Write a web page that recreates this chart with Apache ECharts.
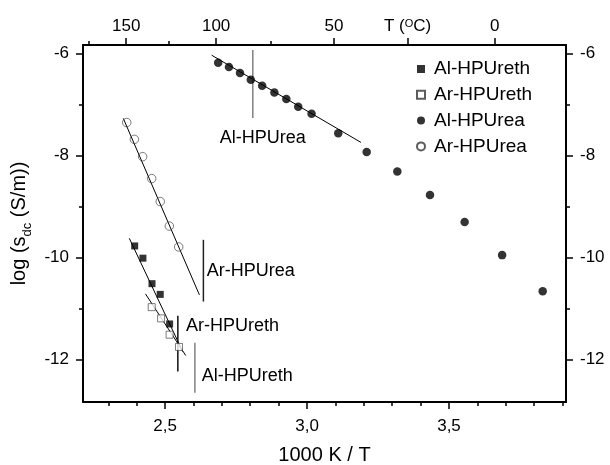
<!DOCTYPE html>
<html>
<head>
<meta charset="utf-8">
<script src="https://cdn.jsdelivr.net/npm/echarts@6/dist/echarts.min.js"></script>
<style>html,body{margin:0;padding:0;background:#fff}#c{width:610px;height:465px}</style>
</head>
<body>
<div id="c"></div>
<script>
// ---- data (x = 1000 K / T, y = log sigma_dc) ----
const alUreaX = [2.687, 2.725, 2.764, 2.802, 2.842, 2.885, 2.927, 2.969, 3.016, 3.110, 3.210, 3.318, 3.433, 3.555, 3.687, 3.830];
const alUreaY = [-6.18, -6.26, -6.38, -6.51, -6.63, -6.76, -6.89, -7.04, -7.18, -7.56, -7.93, -8.31, -8.77, -9.30, -9.95, -10.66];
const arUreaX = [2.365, 2.392, 2.421, 2.453, 2.483, 2.515, 2.548];
const arUreaY = [-7.35, -7.68, -8.02, -8.45, -8.90, -9.38, -9.79];
const alUrethX = [2.393, 2.422, 2.454, 2.483, 2.516];
const alUrethY = [-9.77, -10.01, -10.51, -10.72, -11.30];
const arUrethX = [2.453, 2.486, 2.516, 2.549];
const arUrethY = [-10.97, -11.19, -11.51, -11.75];
// fitted lines: [x1, y1, x2, y2]
const fitAlUrea = [2.664, -6.03, 3.190, -7.74];
const fitArUrea = [2.353, -7.27, 2.621, -10.73];
const fitAlUreth = [2.374, -9.62, 2.562, -11.84];
const fitArUreth = [2.431, -10.71, 2.573, -11.92];
// callouts: name, line x, line y from, line y to, label x, label y
const calloutNames = ['Al-HPUrea', 'Ar-HPUrea', 'Ar-HPUreth', 'Al-HPUreth'];
const calloutLineX = [2.809, 2.635, 2.545, 2.605];
const calloutLineY1 = [-5.93, -9.65, -11.14, -11.67];
const calloutLineY2 = [-7.26, -10.86, -12.23, -12.65];
const calloutTextX = [2.693, 2.647, 2.574, 2.629];
const calloutTextY = [-7.65, -10.27, -11.35, -12.33];
// tick labels
const bottomMajor = [2.5, 3.0, 3.5];
const bottomMinor = [2.3, 2.4, 2.6, 2.7, 2.8, 2.9, 3.1, 3.2, 3.3, 3.4, 3.6, 3.7, 3.8, 3.9];
const topMajorC = [150, 100, 50, 25, 0];
const topMinorC = [175, 125, 75];
const yMajor = [-6, -8, -10, -12];
const yMinor = [-7, -9, -11];
const seriesNames = ['Al-HPUreth', 'Ar-HPUreth', 'Al-HPUrea', 'Ar-HPUrea'];

// ---- chart ----
const FONT = 'Liberation Sans, Arial, sans-serif';
const xMin = 2.211, xMax = 3.912, yMin = -12.83, yMax = -5.83;
const toX = c => 1000 / (c + 273.15);
const zip = (a, b) => a.map((v, i) => [v, b[i]]);
const lineColors = ['#808080', '#222', '#111', '#808080'];

function xAx(pos, ticks, len, labels, extra) {
  return Object.assign({
    type: 'value', position: pos, min: xMin, max: xMax,
    axisLine: { show: labels, onZero: false, lineStyle: { color: '#000', width: 2 } },
    axisTick: { show: true, inside: false, length: len, customValues: ticks, lineStyle: { color: '#000', width: 1.5 } },
    axisLabel: { show: labels, customValues: ticks, color: '#000', fontSize: 17, fontFamily: FONT },
    splitLine: { show: false }
  }, extra || {});
}
function yAx(pos, ticks, len, labels, extra) {
  return Object.assign({
    type: 'value', position: pos, min: yMin, max: yMax,
    axisLine: { show: labels, onZero: false, lineStyle: { color: '#000', width: 2 } },
    axisTick: { show: true, inside: false, length: len, customValues: ticks, lineStyle: { color: '#000', width: 1.5 } },
    axisLabel: { show: labels, customValues: ticks, color: '#000', fontSize: 17, fontFamily: FONT, margin: 14, formatter: v => String(Math.round(v)) },
    splitLine: { show: false }
  }, extra || {});
}

const topMajorX = topMajorC.map(toX);
const topMinorX = topMinorC.map(toX);

const option = {
  animation: false,
  backgroundColor: '#fff',
  grid: { left: 83, right: 44, top: 45, bottom: 63, containLabel: false, outerBoundsMode: 'none' },
  xAxis: [
    xAx('bottom', bottomMajor, 7, true, {
      name: '1000 K / T', nameLocation: 'middle', nameGap: 43,
      nameTextStyle: { color: '#000', fontSize: 20, fontFamily: FONT },
      axisLabel: { show: true, customValues: bottomMajor, color: '#000', fontSize: 17, fontFamily: FONT, margin: 16,
        formatter: v => v.toFixed(1).replace('.', ',') }
    }),
    xAx('bottom', bottomMinor, 4, false),
    xAx('top', topMajorX, 7, true, {
      axisLabel: { show: true, customValues: topMajorX, color: '#000', fontSize: 17, fontFamily: FONT, margin: 10,
        formatter: v => { const c = Math.round(1000 / v - 273.15); return c === 25 ? 'T ({sup|O}C)' : String(c); },
        rich: { sup: { fontSize: 11, fontFamily: FONT, color: '#000', verticalAlign: 'top', lineHeight: 11 } } }
    }),
    xAx('top', topMinorX, 4, false)
  ],
  yAxis: [
    yAx('left', yMajor, 7, true, {
      name: 'log (s{sub|dc} (S/m))', nameLocation: 'middle', nameGap: 45, nameRotate: 90,
      nameTextStyle: { color: '#000', fontSize: 20, fontFamily: FONT, lineHeight: 28,
        rich: { sub: { fontSize: 13, fontFamily: FONT, color: '#000', verticalAlign: 'bottom', lineHeight: 13 } } }
    }),
    yAx('left', yMinor, 4, false),
    yAx('right', yMajor, 7, true),
    yAx('right', yMinor, 4, false)
  ],
  legend: {
    orient: 'vertical', left: 416, top: 59, padding: 0,
    itemWidth: 8, itemHeight: 8, itemGap: 5.8,
    data: seriesNames,
    textStyle: { color: '#000', fontSize: 19, fontFamily: FONT, lineHeight: 20, padding: [0, 0, 0, 4] }
  },
  series: [
    { name: 'fit1', type: 'line', data: [[fitAlUrea[0], fitAlUrea[1]], [fitAlUrea[2], fitAlUrea[3]]], symbol: 'none', lineStyle: { color: '#000', width: 1 }, silent: true, z: 1 },
    { name: 'fit2', type: 'line', data: [[fitArUrea[0], fitArUrea[1]], [fitArUrea[2], fitArUrea[3]]], symbol: 'none', lineStyle: { color: '#000', width: 1 }, silent: true, z: 1 },
    { name: 'fit3', type: 'line', data: [[fitAlUreth[0], fitAlUreth[1]], [fitAlUreth[2], fitAlUreth[3]]], symbol: 'none', lineStyle: { color: '#000', width: 1 }, silent: true, z: 1 },
    { name: 'fit4', type: 'line', data: [[fitArUreth[0], fitArUreth[1]], [fitArUreth[2], fitArUreth[3]]], symbol: 'none', lineStyle: { color: '#000', width: 1 }, silent: true, z: 1 },
    { name: 'Al-HPUreth', type: 'scatter', data: zip(alUrethX, alUrethY), symbol: 'rect', symbolSize: 7,
      itemStyle: { color: '#000' }, z: 3 },
    { name: 'Ar-HPUreth', type: 'scatter', data: zip(arUrethX, arUrethY), symbol: 'rect', symbolSize: 7,
      itemStyle: { color: '#fff', borderColor: '#333', borderWidth: 0.8 }, z: 3 },
    { name: 'Al-HPUrea', type: 'scatter', data: zip(alUreaX, alUreaY), symbol: 'circle', symbolSize: 8.5,
      itemStyle: { color: '#000' }, z: 3 },
    { name: 'Ar-HPUrea', type: 'scatter', data: zip(arUreaX, arUreaY), symbol: 'circle', symbolSize: 8.5,
      itemStyle: { color: 'rgba(255,255,255,0)', borderColor: '#333', borderWidth: 0.8 }, z: 3 },
    { name: 'callouts', type: 'custom', silent: true, z: 2,
      data: calloutNames.map((n, i) => [calloutLineX[i], calloutLineY1[i], calloutLineY2[i], calloutTextX[i], calloutTextY[i]]),
      renderItem: (params, api) => {
        const i = params.dataIndex;
        const p1 = api.coord([api.value(0), api.value(1)]);
        const p2 = api.coord([api.value(0), api.value(2)]);
        const t = api.coord([api.value(3), api.value(4)]);
        return { type: 'group', children: [
          { type: 'line', shape: { x1: p1[0], y1: p1[1], x2: p2[0], y2: p2[1] }, style: { stroke: lineColors[i], lineWidth: 1.5 } },
          { type: 'text', x: t[0], y: t[1], style: { text: calloutNames[i], fill: '#000', fontSize: 18, fontFamily: FONT, verticalAlign: 'middle', align: 'left' } }
        ] };
      }
    }
  ]
};
const chart = echarts.init(document.getElementById('c'), null, { renderer: 'canvas' });
chart.setOption(option);
</script>
</body>
</html>
